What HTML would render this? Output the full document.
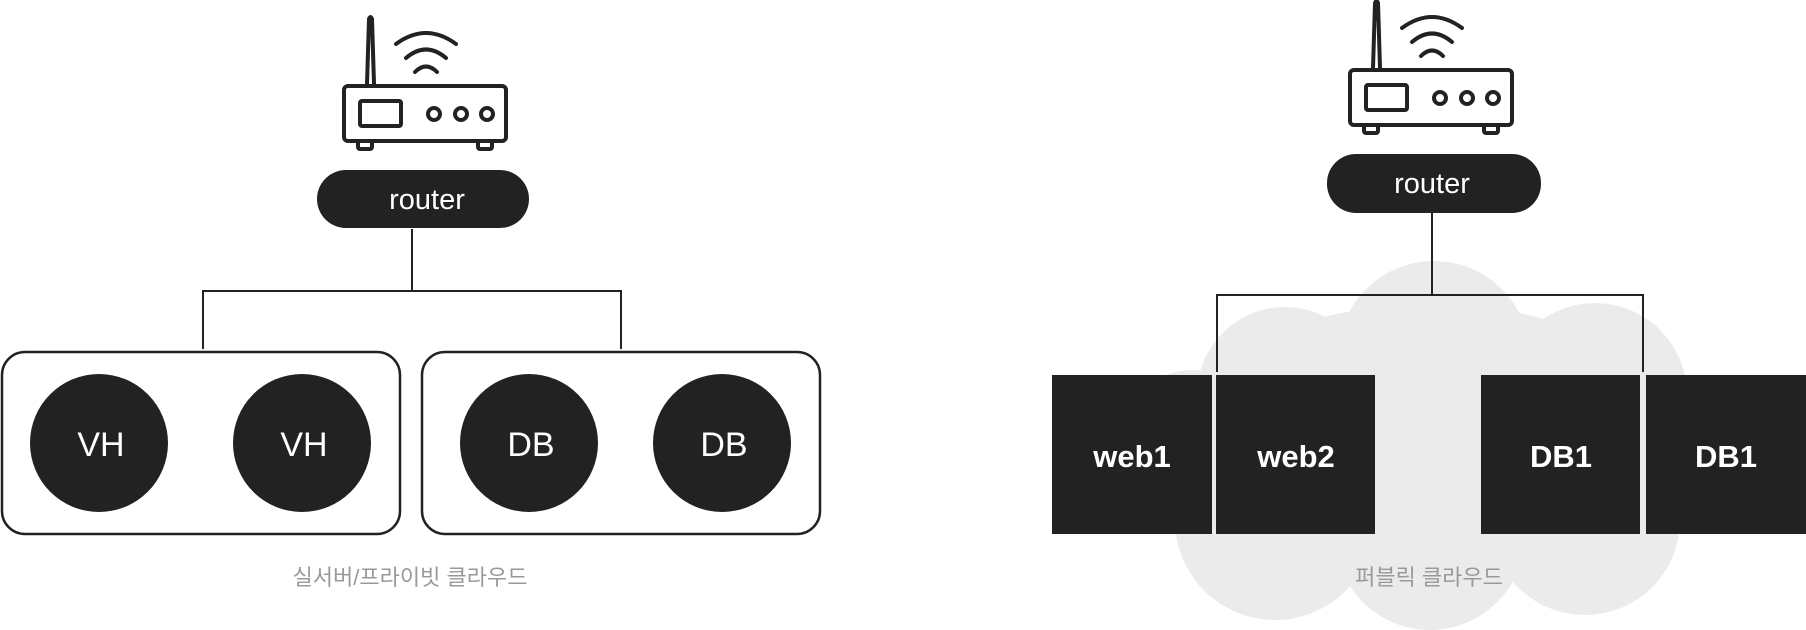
<!DOCTYPE html>
<html><head><meta charset="utf-8"><style>
html,body{margin:0;padding:0;background:#fff;}
svg{display:block;}
text{font-family:"Liberation Sans","Noto Sans CJK KR",sans-serif;}
</style></head><body>
<svg width="1806" height="630" viewBox="0 0 1806 630" xmlns="http://www.w3.org/2000/svg">
<defs>
<g id="rt" fill="none" stroke="#222" stroke-width="4" stroke-linecap="round" stroke-linejoin="round">
  <rect x="344" y="86" width="162" height="55" rx="4"/>
  <rect x="360" y="101" width="41" height="25" rx="2"/>
  <circle cx="434" cy="114" r="6"/>
  <circle cx="461" cy="114" r="6"/>
  <circle cx="487" cy="114" r="6"/>
  <rect x="358" y="141" width="14" height="8" rx="2"/>
  <rect x="478" y="141" width="14" height="8" rx="2"/>
  <path d="M367 84 L369 19 Q370.5 15 372 19 L374 84"/>
  <path d="M415 72 Q426 61 437 72"/>
  <path d="M406 58 Q426 41 446 58"/>
  <path d="M396 44 Q426 22 456 44"/>
</g>
</defs>

<!-- cloud -->
<g fill="#ebebeb">
  <circle cx="1434" cy="357" r="96"/>
  <circle cx="1285" cy="395" r="88"/>
  <circle cx="1595" cy="395" r="92"/>
  <circle cx="1192" cy="442" r="72"/>
  <circle cx="1660" cy="442" r="72"/>
  <circle cx="1275" cy="520" r="100"/>
  <circle cx="1430" cy="535" r="95"/>
  <circle cx="1585" cy="520" r="95"/>
  <ellipse cx="1430" cy="430" rx="250" ry="125"/>
  <rect x="1190" y="380" width="470" height="145"/>
</g>

<!-- left side -->
<use href="#rt"/>
<rect x="317" y="170" width="212" height="58" rx="29" fill="#222"/>
<text x="427" y="209" font-size="29" fill="#fff" text-anchor="middle">router</text>
<g stroke="#222" stroke-width="2" fill="none">
  <path d="M412 229 V291 M203 349 V291 H621 V349"/>
</g>
<rect x="2" y="352" width="398" height="182" rx="23" fill="none" stroke="#222" stroke-width="2.5"/>
<rect x="422" y="352" width="398" height="182" rx="23" fill="none" stroke="#222" stroke-width="2.5"/>
<g fill="#222">
  <circle cx="99" cy="443" r="69"/>
  <circle cx="302" cy="443" r="69"/>
  <circle cx="529" cy="443" r="69"/>
  <circle cx="722" cy="443" r="69"/>
</g>
<g fill="#fff" font-size="34" text-anchor="middle">
  <text x="101" y="456">VH</text>
  <text x="304" y="456">VH</text>
  <text x="531" y="456">DB</text>
  <text x="724" y="456">DB</text>
</g>
<text x="410" y="585" font-size="22" fill="#999" text-anchor="middle">실서버/프라이빗 클라우드</text>

<!-- right side -->
<use href="#rt" transform="translate(1006,-16)"/>
<rect x="1327" y="154" width="214" height="59" rx="29" fill="#222"/>
<text x="1432" y="193" font-size="29" fill="#fff" text-anchor="middle">router</text>
<g stroke="#222" stroke-width="2" fill="none">
  <path d="M1432 213 V295 M1217 372 V295 H1643 V372"/>
</g>
<g fill="#222">
  <rect x="1052" y="375" width="160" height="159"/>
  <rect x="1216" y="375" width="159" height="159"/>
  <rect x="1481" y="375" width="159" height="159"/>
  <rect x="1646" y="375" width="160" height="159"/>
</g>
<g fill="#fff" font-size="31" font-weight="bold" text-anchor="middle">
  <text x="1132" y="467">web1</text>
  <text x="1296" y="467">web2</text>
  <text x="1561" y="467">DB1</text>
  <text x="1726" y="467">DB1</text>
</g>
<text x="1429" y="585" font-size="22" fill="#999" text-anchor="middle">퍼블릭 클라우드</text>
</svg>
</body></html>
